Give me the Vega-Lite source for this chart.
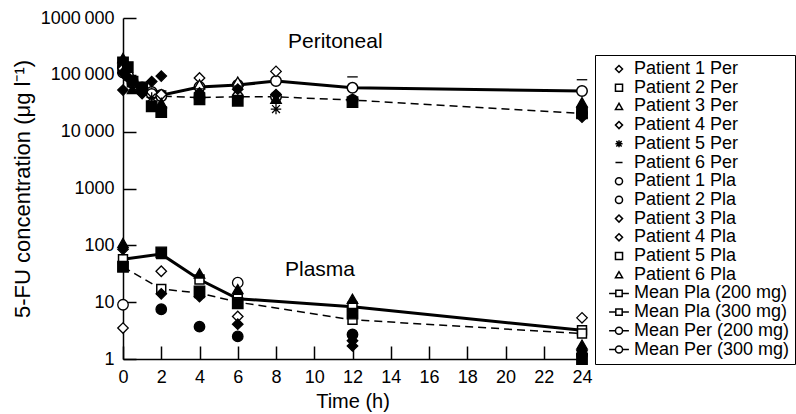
{
  "$schema": "https://vega.github.io/schema/vega-lite/v6.json",
  "width": 459,
  "height": 341,
  "autosize": {"type": "none"},
  "padding": {"left": 123, "top": 18, "right": 214, "bottom": 55},
  "background": "white",
  "config": {
    "font": "Liberation Sans",
    "view": {"stroke": null},
    "axis": {
      "grid": false,
      "domainColor": "black",
      "domainWidth": 1.5,
      "tickColor": "black",
      "tickWidth": 1.5,
      "tickSize": -13,
      "labelColor": "black",
      "labelFont": "Liberation Sans",
      "labelFontSize": 18,
      "titleColor": "black",
      "titleFont": "Liberation Sans",
      "titleFontSize": 20,
      "titleFontWeight": "normal"
    }
  },
  "datasets": {
    "pts": [
      {"t": 0, "v": 198000, "s": "Patient 3 Per", "f": "f"},
      {"t": 0, "v": 165000, "s": "Patient 2 Per", "f": "f"},
      {"t": 0, "v": 128000, "s": "Patient 1 Per", "f": "o"},
      {"t": 0, "v": 108000, "s": "Patient 4 Per", "f": "f"},
      {"t": 0, "v": 54000, "s": "Patient 1 Per", "f": "f"},
      {"t": 0.25, "v": 137000, "s": "Patient 2 Per", "f": "f"},
      {"t": 0.25, "v": 92000, "s": "Patient 4 Per", "f": "f"},
      {"t": 0.5, "v": 76000, "s": "Patient 2 Per", "f": "f"},
      {"t": 0.5, "v": 56000, "s": "Patient 3 Per", "f": "f"},
      {"t": 1, "v": 60000, "s": "Patient 2 Per", "f": "f"},
      {"t": 1, "v": 47000, "s": "Patient 4 Per", "f": "f"},
      {"t": 1.5, "v": 76000, "s": "Patient 4 Per", "f": "f"},
      {"t": 1.5, "v": 40000, "s": "Patient 5 Per", "f": "o"},
      {"t": 1.5, "v": 28000, "s": "Patient 2 Per", "f": "f"},
      {"t": 2, "v": 95000, "s": "Patient 4 Per", "f": "f"},
      {"t": 2, "v": 52000, "s": "Patient 6 Per", "f": "o"},
      {"t": 2, "v": 45000, "s": "Patient 1 Per", "f": "o"},
      {"t": 2, "v": 32000, "s": "Patient 3 Per", "f": "f"},
      {"t": 2, "v": 22000, "s": "Patient 2 Per", "f": "f"},
      {"t": 4, "v": 88000, "s": "Patient 1 Per", "f": "o"},
      {"t": 4, "v": 68000, "s": "Patient 3 Per", "f": "o"},
      {"t": 4, "v": 48000, "s": "Patient 4 Per", "f": "f"},
      {"t": 4, "v": 37000, "s": "Patient 2 Per", "f": "f"},
      {"t": 6, "v": 76000, "s": "Patient 3 Per", "f": "o"},
      {"t": 6, "v": 56000, "s": "Patient 4 Per", "f": "f"},
      {"t": 6, "v": 35000, "s": "Patient 2 Per", "f": "f"},
      {"t": 8, "v": 115000, "s": "Patient 1 Per", "f": "o"},
      {"t": 8, "v": 45000, "s": "Patient 4 Per", "f": "f"},
      {"t": 8, "v": 38000, "s": "Patient 3 Per", "f": "f"},
      {"t": 8, "v": 25000, "s": "Patient 5 Per", "f": "o"},
      {"t": 12, "v": 92000, "s": "Patient 6 Per", "f": "o"},
      {"t": 12, "v": 37000, "s": "Patient 4 Per", "f": "f"},
      {"t": 12, "v": 33000, "s": "Patient 2 Per", "f": "f"},
      {"t": 24, "v": 82000, "s": "Patient 6 Per", "f": "o"},
      {"t": 24, "v": 33000, "s": "Patient 3 Per", "f": "f"},
      {"t": 24, "v": 27000, "s": "Patient 4 Per", "f": "f"},
      {"t": 24, "v": 21000, "s": "Patient 2 Per", "f": "f"},
      {"t": 24, "v": 18000, "s": "Patient 1 Per", "f": "f"},
      {"t": 0, "v": 110, "s": "Patient 6 Pla", "f": "f"},
      {"t": 0, "v": 85, "s": "Patient 3 Pla", "f": "f"},
      {"t": 0, "v": 42, "s": "Patient 5 Pla", "f": "f"},
      {"t": 0, "v": 9, "s": "Patient 1 Pla", "f": "o"},
      {"t": 0, "v": 3.5, "s": "Patient 4 Pla", "f": "o"},
      {"t": 2, "v": 75, "s": "Patient 5 Pla", "f": "f"},
      {"t": 2, "v": 35, "s": "Patient 3 Pla", "f": "o"},
      {"t": 2, "v": 14, "s": "Patient 4 Pla", "f": "f"},
      {"t": 2, "v": 7.5, "s": "Patient 2 Pla", "f": "f"},
      {"t": 4, "v": 32, "s": "Patient 6 Pla", "f": "f"},
      {"t": 4, "v": 15.5, "s": "Patient 5 Pla", "f": "f"},
      {"t": 4, "v": 12.5, "s": "Patient 4 Pla", "f": "f"},
      {"t": 4, "v": 3.7, "s": "Patient 2 Pla", "f": "f"},
      {"t": 6, "v": 22, "s": "Patient 1 Pla", "f": "o"},
      {"t": 6, "v": 17, "s": "Patient 6 Pla", "f": "f"},
      {"t": 6, "v": 9.5, "s": "Patient 5 Pla", "f": "f"},
      {"t": 6, "v": 5.6, "s": "Patient 3 Pla", "f": "o"},
      {"t": 6, "v": 4.1, "s": "Patient 4 Pla", "f": "f"},
      {"t": 6, "v": 2.5, "s": "Patient 2 Pla", "f": "f"},
      {"t": 12, "v": 11.5, "s": "Patient 6 Pla", "f": "f"},
      {"t": 12, "v": 6.3, "s": "Patient 5 Pla", "f": "f"},
      {"t": 12, "v": 2.7, "s": "Patient 2 Pla", "f": "f"},
      {"t": 12, "v": 2.1, "s": "Patient 4 Pla", "f": "f"},
      {"t": 12, "v": 1.7, "s": "Patient 3 Pla", "f": "f"},
      {"t": 24, "v": 5.3, "s": "Patient 3 Pla", "f": "o"},
      {"t": 24, "v": 1.8, "s": "Patient 6 Pla", "f": "f"},
      {"t": 24, "v": 1.4, "s": "Patient 4 Pla", "f": "f"},
      {"t": 24, "v": 1.2, "s": "Patient 2 Pla", "f": "f"},
      {"t": 24, "v": 1.0, "s": "Patient 5 Pla", "f": "f"}
    ],
    "means": [
      {"t": 0, "v": 110000, "s": "Mean Per (300 mg)", "grp": "Per", "dose": "300"},
      {"t": 0.25, "v": 95000, "s": "Mean Per (300 mg)", "grp": "Per", "dose": "300"},
      {"t": 0.5, "v": 76000, "s": "Mean Per (300 mg)", "grp": "Per", "dose": "300"},
      {"t": 1, "v": 60000, "s": "Mean Per (300 mg)", "grp": "Per", "dose": "300"},
      {"t": 1.5, "v": 50000, "s": "Mean Per (300 mg)", "grp": "Per", "dose": "300"},
      {"t": 2, "v": 44000, "s": "Mean Per (300 mg)", "grp": "Per", "dose": "300"},
      {"t": 4, "v": 61000, "s": "Mean Per (300 mg)", "grp": "Per", "dose": "300"},
      {"t": 6, "v": 66000, "s": "Mean Per (300 mg)", "grp": "Per", "dose": "300"},
      {"t": 8, "v": 78000, "s": "Mean Per (300 mg)", "grp": "Per", "dose": "300"},
      {"t": 12, "v": 59000, "s": "Mean Per (300 mg)", "grp": "Per", "dose": "300"},
      {"t": 24, "v": 52000, "s": "Mean Per (300 mg)", "grp": "Per", "dose": "300"},
      {"t": 0, "v": 130000, "s": "Mean Per (200 mg)", "grp": "Per", "dose": "200"},
      {"t": 0.25, "v": 100000, "s": "Mean Per (200 mg)", "grp": "Per", "dose": "200"},
      {"t": 0.5, "v": 72000, "s": "Mean Per (200 mg)", "grp": "Per", "dose": "200"},
      {"t": 1, "v": 55000, "s": "Mean Per (200 mg)", "grp": "Per", "dose": "200"},
      {"t": 1.5, "v": 46000, "s": "Mean Per (200 mg)", "grp": "Per", "dose": "200"},
      {"t": 2, "v": 42000, "s": "Mean Per (200 mg)", "grp": "Per", "dose": "200"},
      {"t": 4, "v": 40000, "s": "Mean Per (200 mg)", "grp": "Per", "dose": "200"},
      {"t": 6, "v": 41000, "s": "Mean Per (200 mg)", "grp": "Per", "dose": "200"},
      {"t": 8, "v": 41000, "s": "Mean Per (200 mg)", "grp": "Per", "dose": "200"},
      {"t": 12, "v": 36000, "s": "Mean Per (200 mg)", "grp": "Per", "dose": "200"},
      {"t": 24, "v": 21000, "s": "Mean Per (200 mg)", "grp": "Per", "dose": "200"},
      {"t": 0, "v": 57, "s": "Mean Pla (300 mg)", "grp": "Pla", "dose": "300"},
      {"t": 2, "v": 70, "s": "Mean Pla (300 mg)", "grp": "Pla", "dose": "300"},
      {"t": 4, "v": 25, "s": "Mean Pla (300 mg)", "grp": "Pla", "dose": "300"},
      {"t": 6, "v": 11.5, "s": "Mean Pla (300 mg)", "grp": "Pla", "dose": "300"},
      {"t": 12, "v": 8.3, "s": "Mean Pla (300 mg)", "grp": "Pla", "dose": "300"},
      {"t": 24, "v": 3.2, "s": "Mean Pla (300 mg)", "grp": "Pla", "dose": "300"},
      {"t": 0, "v": 42, "s": "Mean Pla (200 mg)", "grp": "Pla", "dose": "200"},
      {"t": 2, "v": 17, "s": "Mean Pla (200 mg)", "grp": "Pla", "dose": "200"},
      {"t": 4, "v": 14.5, "s": "Mean Pla (200 mg)", "grp": "Pla", "dose": "200"},
      {"t": 6, "v": 10, "s": "Mean Pla (200 mg)", "grp": "Pla", "dose": "200"},
      {"t": 12, "v": 4.9, "s": "Mean Pla (200 mg)", "grp": "Pla", "dose": "200"},
      {"t": 24, "v": 2.8, "s": "Mean Pla (200 mg)", "grp": "Pla", "dose": "200"}
    ],
    "labels": [
      {"t": 11.1, "v": 380000, "label": "Peritoneal"},
      {"t": 10.3, "v": 37, "label": "Plasma"}
    ]
  },
  "encoding": {
    "x": {
      "field": "t",
      "type": "quantitative",
      "scale": {"domain": [0, 24], "nice": false, "zero": false},
      "axis": {
        "title": "Time (h)",
        "values": [0, 2, 4, 6, 8, 10, 12, 14, 16, 18, 20, 22, 24],
        "labelPadding": 22,
        "titlePadding": 5,
        "labelFlush": false
      }
    },
    "y": {
      "field": "v",
      "type": "quantitative",
      "scale": {"type": "log", "domain": [1, 1000000], "nice": false},
      "axis": {
        "title": "5-FU concentration (μg l⁻¹)",
        "titleFontSize": 22,
        "values": [1, 10, 100, 1000, 10000, 100000, 1000000],
        "labelExpr": "datum.value == 1000000 ? '1000\u2009000' : datum.value == 100000 ? '100\u2009000' : datum.value == 10000 ? '10\u2009000' : format(datum.value, 'd')",
        "labelPadding": 22,
        "titlePadding": 6,
        "labelFlush": false
      }
    }
  },
  "layer": [
    {
      "data": {"name": "means"},
      "transform": [{"filter": "datum.dose == '300'"}],
      "mark": {"type": "line", "color": "black", "strokeWidth": 3},
      "encoding": {"detail": {"field": "s", "type": "nominal"}}
    },
    {
      "data": {"name": "means"},
      "transform": [{"filter": "datum.dose == '200'"}],
      "mark": {"type": "line", "color": "black", "strokeWidth": 1.5, "strokeDash": [8, 5]},
      "encoding": {"detail": {"field": "s", "type": "nominal"}}
    },
    {
      "data": {"name": "means"},
      "transform": [{"filter": "datum.grp == 'Pla'"}],
      "mark": {"type": "point", "shape": "square", "filled": true, "fill": "white", "stroke": "black", "strokeWidth": 1.5, "size": 80, "opacity": 1}
    },
    {
      "data": {"name": "means"},
      "transform": [{"filter": "datum.grp == 'Per'"}],
      "mark": {"type": "point", "shape": "circle", "filled": true, "fill": "white", "stroke": "black", "strokeWidth": 1.5, "size": 110, "opacity": 1}
    },
    {
      "data": {"name": "pts"},
      "mark": {"type": "point", "filled": true, "stroke": "black", "strokeWidth": 1.3, "size": 110, "opacity": 1},
      "encoding": {
        "shape": {
          "field": "s",
          "type": "nominal",
          "scale": {
            "domain": ["Patient 1 Per", "Patient 2 Per", "Patient 3 Per", "Patient 4 Per", "Patient 5 Per", "Patient 6 Per", "Patient 1 Pla", "Patient 2 Pla", "Patient 3 Pla", "Patient 4 Pla", "Patient 5 Pla", "Patient 6 Pla", "Mean Pla (200 mg)", "Mean Pla (300 mg)", "Mean Per (200 mg)", "Mean Per (300 mg)"],
            "range": ["diamond", "square", "triangle-up", "diamond", "M-1,0H1M0,-1V1M-0.75,-0.75L0.75,0.75M-0.75,0.75L0.75,-0.75", "M-1,0H1", "circle", "circle", "diamond", "diamond", "square", "triangle-up",
              "M-2.8,0H-0.9M0.9,0H2.8M-0.9,-0.9H0.9V0.9H-0.9Z",
              "M-2.8,0H-0.9M0.9,0H2.8M-0.9,-0.9H0.9V0.9H-0.9Z",
              "M-2.8,0H-1M1,0H2.8M-1,0A1,1,0,1,0,1,0A1,1,0,1,0,-1,0Z",
              "M-2.8,0H-1M1,0H2.8M-1,0A1,1,0,1,0,1,0A1,1,0,1,0,-1,0Z"]
          },
          "legend": {
            "title": null,
            "orient": "none",
            "legendX": 472,
            "legendY": 37,
            "padding": 5,
            "strokeColor": "black",
            "symbolOffset": 10,
            "symbolSize": 50,
            "symbolStrokeWidth": 1.5,
            "symbolFillColor": "white",
            "symbolStrokeColor": "black",
            "labelFont": "Liberation Sans",
            "labelFontSize": 18,
            "labelColor": "black",
            "labelOffset": 6,
            "labelLimit": 400,
            "rowPadding": 0.7,
            "encode": {
              "symbols": {"update": {"fill": {"value": "white"}, "stroke": {"value": "black"}, "strokeWidth": {"value": 1.5}}},
              "legend": {"update": {"strokeWidth": {"value": 1.5}}}
            }
          }
        },
        "fill": {
          "field": "f",
          "type": "nominal",
          "scale": {"domain": ["o", "f"], "range": ["white", "black"]},
          "legend": null
        }
      }
    },
    {
      "data": {"name": "labels"},
      "mark": {"type": "text", "font": "Liberation Sans", "fontSize": 21, "align": "center", "baseline": "middle", "color": "black"},
      "encoding": {"text": {"field": "label", "type": "nominal"}}
    }
  ]
}
